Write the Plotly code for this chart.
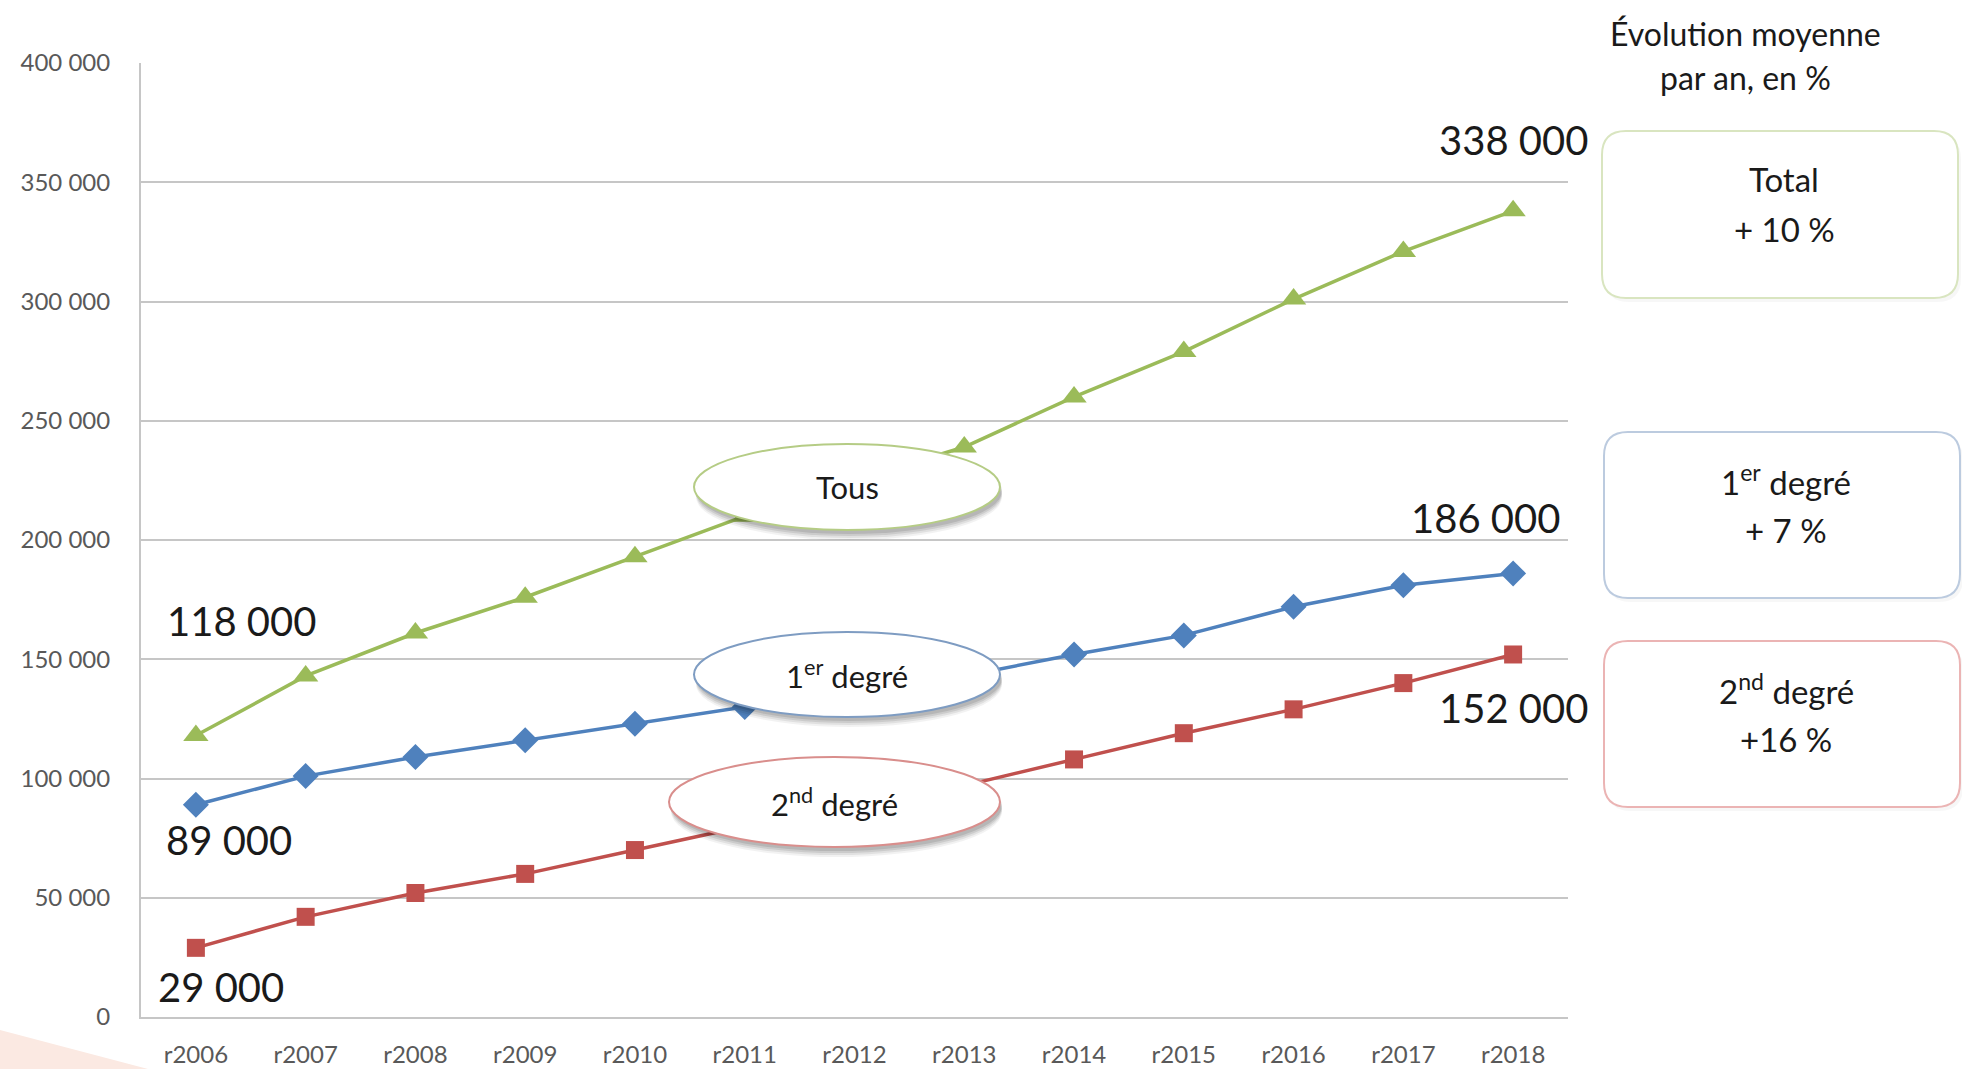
import plotly.graph_objects as go

# ---------------- data ----------------
years = ["r2006", "r2007", "r2008", "r2009", "r2010", "r2011", "r2012",
         "r2013", "r2014", "r2015", "r2016", "r2017", "r2018"]
tous = [118000, 143000, 161000, 176000, 193000, 210000, 225000,
        239000, 260000, 279000, 301000, 321000, 338000]
premier = [89000, 101000, 109000, 116000, 123000, 130000, 137000,
           143000, 152000, 160000, 172000, 181000, 186000]
second = [29000, 42000, 52000, 60000, 70000, 80000, 88000,
          97000, 108000, 119000, 129000, 140000, 152000]
y_tickvals = [0, 50000, 100000, 150000, 200000, 250000, 300000, 350000, 400000]
y_ticktext = ["0", "50 000", "100 000", "150 000", "200 000", "250 000",
              "300 000", "350 000", "400 000"]
box_titles = ["Total", "1<sup>er</sup> degré", "2<sup>nd</sup> degré"]
box_rates = ["+ 10 %", "+ 7 %", "+16 %"]
ellipse_names = ["Tous", "1<sup>er</sup> degré", "2<sup>nd</sup> degré"]

GREEN = "#9BBB59"
BLUE = "#4F81BD"
RED = "#C0504D"
FONT = "Lato"

# ---------------- geometry (pixels) ----------------
FW, FH = 1962, 1069
L, R, T, B = 141, 1568, 63, 1017
W, H = R - L, B - T


def px(x):
    return (x - L) / W


def py(y):
    return (B - y) / H


def fmt(v):
    return f"{v:,}".replace(",", " ")


fig = go.Figure()

series = [
    (premier, BLUE, "diamond", 20, "1er degré"),
    (second, RED, "square", 18, "2nd degré"),
    (tous, GREEN, "triangle-up", 22, "Tous"),
]
for vals, col, sym, msize, name in series:
    fig.add_trace(go.Scatter(
        x=years, y=vals, mode="lines+markers", name=name,
        line=dict(color=col, width=3.5),
        marker=dict(symbol=sym, size=msize, color=col, line=dict(width=0)),
        hoverinfo="skip", showlegend=False,
    ))

annotations = []

# data labels at first and last points
label_specs = [
    (tous, 0, 46, 115),
    (premier, 0, 33, -35),
    (second, 0, 25, -39),
    (tous, -1, 0, 71),
    (premier, -1, -28, 55),
    (second, -1, 0, -54),
]
for vals, idx, dx, dy in label_specs:
    annotations.append(dict(
        x=years[idx], y=vals[idx], xref="x", yref="y",
        text=fmt(vals[idx]), showarrow=False,
        xanchor="center", yanchor="middle",
        xshift=dx, yshift=dy,
        font=dict(family=FONT, size=40, color="#1a1a1a"),
    ))

shapes = []

# decorative pink corner
shapes.append(dict(
    type="path", xref="paper", yref="paper",
    path=f"M {px(0)},{py(1030)} L {px(148)},{py(1069)} L {px(0)},{py(1069)} Z",
    fillcolor="#FBE9E2", line=dict(width=0), layer="below",
))

# ellipses with shadows
ellipses = [
    ((694, 444, 1000, 530), "#B5CC85", ellipse_names[0]),
    ((694, 632, 1000, 717), "#7E9CC2", ellipse_names[1]),
    ((669, 757, 1000, 847), "#D98E8C", ellipse_names[2]),
]
for (x0, y0, x1, y1), col, name in ellipses:
    for off, alpha in [(10, 0.05), (8, 0.07), (6, 0.09), (4, 0.10)]:
        shapes.append(dict(
            type="circle", xref="paper", yref="paper",
            x0=px(x0 + 2), x1=px(x1 + 2), y0=py(y1 + off), y1=py(y0 + off),
            fillcolor=f"rgba(0,0,0,{alpha})", line=dict(width=0), layer="above",
        ))
    shapes.append(dict(
        type="circle", xref="paper", yref="paper",
        x0=px(x0), x1=px(x1), y0=py(y1), y1=py(y0),
        fillcolor="white", line=dict(color=col, width=2), layer="above",
    ))
    annotations.append(dict(
        x=px((x0 + x1) / 2), y=py((y0 + y1) / 2), xref="paper", yref="paper",
        xanchor="center", yanchor="middle",
        text=name, showarrow=False,
        font=dict(family=FONT, size=31, color="#1a1a1a"),
    ))


# rounded boxes on the right
def rounded(x0, y0, x1, y1, r):
    pts = [
        f"M {px(x0 + r)},{py(y0)}",
        f"L {px(x1 - r)},{py(y0)}",
        f"Q {px(x1)},{py(y0)} {px(x1)},{py(y0 + r)}",
        f"L {px(x1)},{py(y1 - r)}",
        f"Q {px(x1)},{py(y1)} {px(x1 - r)},{py(y1)}",
        f"L {px(x0 + r)},{py(y1)}",
        f"Q {px(x0)},{py(y1)} {px(x0)},{py(y1 - r)}",
        f"L {px(x0)},{py(y0 + r)}",
        f"Q {px(x0)},{py(y0)} {px(x0 + r)},{py(y0)}",
        "Z",
    ]
    return " ".join(pts)


boxes = [
    ((1602, 131, 1958, 298), "#D9E5C0"),
    ((1604, 432, 1960, 598), "#BCCBDF"),
    ((1604, 641, 1960, 807), "#EBB4B4"),
]
for i, ((x0, y0, x1, y1), col) in enumerate(boxes):
    shapes.append(dict(
        type="path", xref="paper", yref="paper",
        path=rounded(x0 + 3, y0 + 4, x1 + 3, y1 + 4, 24),
        fillcolor="rgba(0,0,0,0.03)", line=dict(width=0), layer="above",
    ))
    shapes.append(dict(
        type="path", xref="paper", yref="paper",
        path=rounded(x0, y0, x1, y1, 24),
        fillcolor="white", line=dict(color=col, width=2), layer="above",
    ))
    cx = (x0 + x1) / 2 + 4
    annotations.append(dict(
        x=px(cx), y=py(y0 + 48), xref="paper", yref="paper",
        xanchor="center", yanchor="middle",
        text=box_titles[i], showarrow=False,
        font=dict(family=FONT, size=33, color="#1a1a1a"),
    ))
    annotations.append(dict(
        x=px(cx), y=py(y0 + 98), xref="paper", yref="paper",
        xanchor="center", yanchor="middle",
        text=box_rates[i], showarrow=False,
        font=dict(family=FONT, size=33, color="#1a1a1a"),
    ))

# header text
annotations.append(dict(
    x=px(1745), y=py(33), xref="paper", yref="paper",
    xanchor="center", yanchor="middle",
    text="Évolution moyenne", showarrow=False,
    font=dict(family=FONT, size=32, color="#1a1a1a"),
))
annotations.append(dict(
    x=px(1745), y=py(77), xref="paper", yref="paper",
    xanchor="center", yanchor="middle",
    text="par an, en %", showarrow=False,
    font=dict(family=FONT, size=32, color="#1a1a1a"),
))

fig.update_layout(
    template="none",
    width=FW, height=FH, autosize=False,
    margin=dict(l=L, r=FW - R, t=T, b=FH - B, pad=0),
    paper_bgcolor="white", plot_bgcolor="white",
    font=dict(family=FONT),
    shapes=shapes, annotations=annotations,
    showlegend=False,
)
fig.update_xaxes(
    type="category", range=[-0.5, len(years) - 0.5],
    showgrid=False, showline=True, linecolor="#C6C6C6", linewidth=2,
    ticks="", ticklabelstandoff=15, automargin=False,
    tickfont=dict(family=FONT, size=24, color="#595959"),
    fixedrange=True,
)
fig.update_yaxes(
    range=[0, 400000], tickvals=y_tickvals, ticktext=y_ticktext,
    showgrid=True, gridcolor="#C6C6C6", gridwidth=2,
    showline=True, linecolor="#C6C6C6", linewidth=2,
    zeroline=False, ticks="", ticklabelstandoff=24, automargin=False,
    tickfont=dict(family=FONT, size=24, color="#595959"),
    fixedrange=True,
)

fig.write_html("out.html", config={"displayModeBar": False},
               post_script="document.body.style.margin='0px';")
